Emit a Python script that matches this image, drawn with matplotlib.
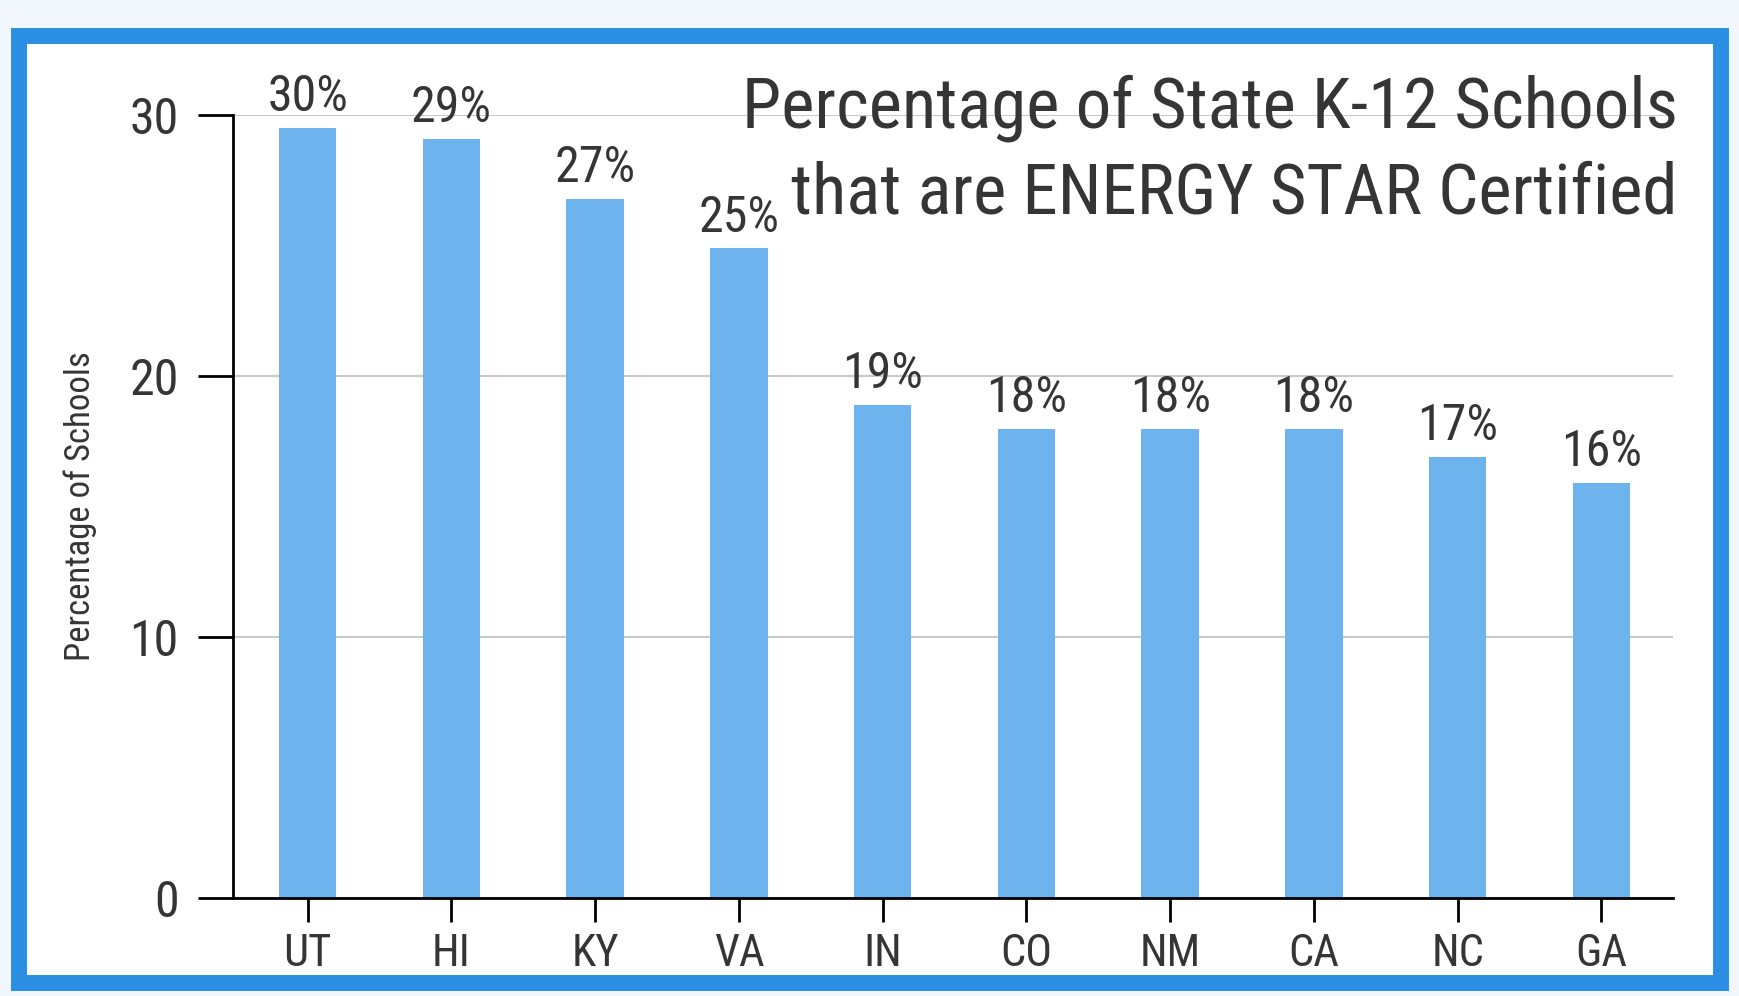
import matplotlib.pyplot as plt
from matplotlib.patches import Rectangle

states = ['UT', 'HI', 'KY', 'VA', 'IN', 'CO', 'NM', 'CA', 'NC', 'GA']
pct = [29.5, 29.1, 26.8, 24.9, 18.9, 18.0, 18.0, 18.0, 16.9, 15.9]
pct_labels = ['30%', '29%', '27%', '25%', '19%', '18%', '18%', '18%', '17%', '16%']
yticks = [0, 10, 20, 30]

plt.rcParams['font.family'] = ['Roboto Condensed', 'DejaVu Sans']
text_col = '#353535'
bar_col = '#6db4ee'
border_col = '#2b8fe3'

fig = plt.figure(figsize=(17.4, 9.96), dpi=100, facecolor='#f2f7fd')
W, H = 1740, 996

# blue frame with white inside
frame = Rectangle((19 / W, 1 - 983 / H), (1721 - 19) / W, (983 - 36) / H,
                  transform=fig.transFigure, facecolor='white',
                  edgecolor=border_col, linewidth=11.5, zorder=-5)
fig.patches.append(frame)

ax = fig.add_axes([0.1339, 0.098, 0.9617 - 0.1339, 0.8842 - 0.098])
ax.set_facecolor('none')
x = range(len(states))
bars = ax.bar(x, pct, width=0.4, color=bar_col, zorder=2)
ax.bar_label(bars, labels=pct_labels, padding=5, fontsize=36, color=text_col)

ax.set_xlim(-0.52, 9.5)
ax.set_ylim(0, 30)
ax.set_yticks(yticks)
ax.set_xticks(list(x))
ax.set_xticklabels(states)
ax.yaxis.grid(True, color='#c9c9c9', linewidth=1.5, zorder=0)
ax.set_axisbelow(True)

for s in ['top', 'right']:
    ax.spines[s].set_visible(False)
for s in ['left', 'bottom']:
    ax.spines[s].set_linewidth(2)
    ax.spines[s].set_color('black')

ax.tick_params(axis='y', length=25, width=2, pad=14, labelsize=36,
               labelcolor=text_col)
ax.tick_params(axis='x', length=17, width=2, pad=8, labelsize=32,
               labelcolor=text_col)

fig.text(0.046, 0.492, 'Percentage of Schools', rotation=90, ha='center',
         va='center', fontsize=25, color=text_col)

fig.text(0.9643, 0.872, 'Percentage of State K-12 Schools', ha='right',
         va='baseline', fontsize=51, color=text_col)
fig.text(0.9643, 0.786, 'that are ENERGY STAR Certified', ha='right',
         va='baseline', fontsize=51, color=text_col)

fig.savefig('out.png', dpi=100, facecolor=fig.get_facecolor())
